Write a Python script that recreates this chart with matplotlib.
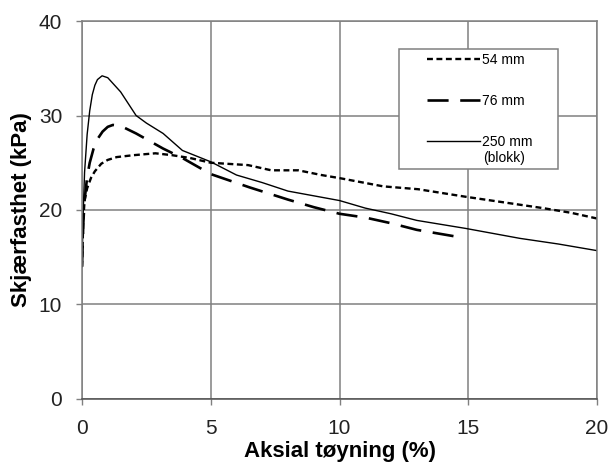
import numpy as np
from matplotlib import pyplot as plt
from matplotlib.patches import Rectangle

plt.rcParams['font.family'] = ['Liberation Sans', 'DejaVu Sans']

# 54 mm sample
strain_54 = [0.0, 0.05, 0.1, 0.2, 0.35, 0.5, 0.75, 1.0, 1.35, 2.0, 2.85, 3.5, 4.2, 5.0, 6.45,
             7.35, 8.4, 9.3, 10.05, 11.7, 13.05, 14.9, 16.4, 17.9, 19.0, 20.0]
tau_54 = [14.0, 19.0, 21.0, 22.3, 23.4, 24.1, 24.9, 25.3, 25.6, 25.8, 26.0, 25.8, 25.5, 25.0, 24.75,
          24.2, 24.2, 23.7, 23.35, 22.5, 22.2, 21.4, 20.8, 20.2, 19.7, 19.1]

# 76 mm sample
strain_76 = [0.0, 0.05, 0.1, 0.2, 0.3, 0.45, 0.6, 0.8, 1.0, 1.2, 1.5, 2.1, 3.15, 3.9, 5.0,
             6.5, 8.0, 9.0, 10.0, 11.0, 12.0, 13.0, 14.5]
tau_76 = [14.0, 18.5, 21.0, 23.5, 25.0, 26.5, 27.5, 28.3, 28.8, 29.0, 28.9, 28.1, 26.5, 25.5, 23.8,
          22.4, 21.1, 20.3, 19.6, 19.2, 18.6, 17.9, 17.2]

# 250 mm (blokk)
strain_250 = [0.0, 0.05, 0.1, 0.2, 0.3, 0.4, 0.5, 0.6, 0.78, 1.0, 1.5, 2.1, 2.5, 3.15, 3.9,
              5.0, 6.0, 7.0, 8.0, 9.0, 10.0, 11.0, 12.0, 13.0, 14.9, 16.0, 17.0, 18.5, 20.0]
tau_250 = [14.0, 20.0, 24.0, 28.0, 30.5, 32.2, 33.2, 33.8, 34.2, 34.0, 32.5, 30.0, 29.2, 28.1, 26.3,
           25.1, 23.7, 22.9, 22.0, 21.5, 21.0, 20.2, 19.6, 18.9, 18.05, 17.5, 17.0, 16.4, 15.7]

labels = ['54 mm', '76 mm', '250 mm']
x_ticks = [0, 5, 10, 15, 20]
y_ticks = [0, 10, 20, 30, 40]

fig = plt.figure(figsize=(6.11, 4.71), dpi=100)
ax = fig.add_axes([0.1342, 0.1529, 0.8429, 0.8025])

grey = '#808080'
ax.plot(strain_54, tau_54, color='black', lw=1.7, linestyle=(0, (2.5, 1.5)), label=labels[0])
ax.plot(strain_76, tau_76, color='black', lw=1.9, linestyle=(0, (8, 4.4)), label=labels[1])
ax.plot(strain_250, tau_250, color='black', lw=1.0, linestyle='-', label=labels[2])

ax.set_xlim(0, 20)
ax.set_ylim(0, 40)
ax.set_xticks(x_ticks)
ax.set_yticks(y_ticks)
ax.grid(True, color=grey, lw=1.1)
ax.set_axisbelow(True)
for s in ax.spines.values():
    s.set_color(grey)
    s.set_linewidth(1.1)
ax.spines['bottom'].set_color('#505050')
ax.tick_params(axis='both', colors=grey, length=4.3, width=1.0, labelsize=15,
               labelcolor='#222222', pad=10)

ax.set_xlabel('Aksial tøyning (%)', fontsize=16, fontweight='bold', labelpad=2)
ax.set_ylabel('Skjærfasthet (kPa)', fontsize=16, fontweight='bold', labelpad=5)

# legend frame drawn separately so the entries can sit as in the original
frame = Rectangle((0.616, 0.608), 0.308, 0.318, transform=ax.transAxes,
                  facecolor='white', edgecolor=grey, lw=1.1, zorder=5)
ax.add_patch(frame)
leg = ax.legend(loc='upper left', bbox_to_anchor=(0.670, 0.915), fontsize=10,
                frameon=False, handlelength=3.8, handletextpad=0.15,
                labelspacing=1.95, borderpad=0.0, borderaxespad=0.0)
leg.set_zorder(6)
ax.text(0.779, 0.638, '(blokk)', transform=ax.transAxes, fontsize=10,
        ha='left', va='center', zorder=7)

fig.savefig('out.png', dpi=100)
